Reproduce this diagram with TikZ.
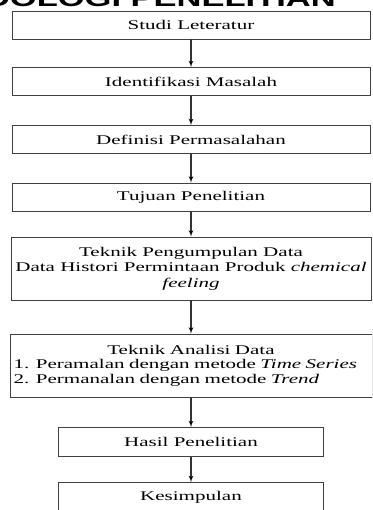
\documentclass[tikz,border=0pt]{standalone}
\usepackage{fontspec}
\setmainfont{Liberation Serif}[FakeStretch=1.58]
\newfontfamily\judulfont{Liberation Sans}[FakeStretch=1.5]
\usepackage{tikz}
\usetikzlibrary{arrows}

\begin{document}
\begin{tikzpicture}[->,>=latex',shorten >=0pt,x=1pt,y=1pt,node distance=56.5pt,
                    box/.style={rectangle,draw=black!75,line width=0.9pt,minimum width=358pt,
                      minimum height=28pt,inner sep=3.5pt,align=center,
                      font=\fontsize{13.3}{15.5}\selectfont},
                    tall box/.style={box,minimum width=360pt,minimum height=63pt},
                    small box/.style={box,minimum width=265pt,minimum height=29pt}]
  \useasboundingbox (0,0) rectangle (372,-510);
  \clip (0,0) rectangle (372,-510);

  \node[anchor=base east,inner sep=0pt,font=\judulfont\bfseries\fontsize{23}{26}\selectfont]
    (judul) at (336,-6.5) {METODOLOGI PENELITIAN};

  \node[box] (studi) at (191,-25) {Studi Leteratur};
  \node[box] (identifikasi) [below of=studi] {Identifikasi Masalah};
  \node[box] (definisi) [below of=identifikasi,node distance=58pt] {Definisi Permasalahan};
  \node[box] (tujuan) [below of=definisi,node distance=57.5pt] {Tujuan Penelitian};
  \node[tall box] (pengumpulan) [below of=tujuan,node distance=71.5pt]
    {Teknik Pengumpulan Data\\ Data Histori Permintaan Produk \textit{chemical}\\ \textit{feeling}};
  \node[tall box,text width=355pt,align=left,font=\fontsize{13.3}{14.5}\selectfont]
    (analisis) [below of=pengumpulan,node distance=97pt]
    {\makebox[\linewidth]{Teknik Analisi Data}\\
     1. Peramalan dengan metode \textit{Time Series}\\
     2. Permanalan dengan metode \textit{Trend}};
  \node[small box] (hasil) [below of=analisis,node distance=76.5pt] {Hasil Penelitian};
  \node[small box] (kesimpulan) [below of=hasil,node distance=55pt] {Kesimpulan};

  \path[draw=black!80,line width=1.1pt]
    (studi) edge (identifikasi)
    (identifikasi) edge (definisi)
    (definisi) edge (tujuan)
    (tujuan) edge (pengumpulan)
    (pengumpulan) edge (analisis)
    (analisis) edge (hasil)
    (hasil) edge (kesimpulan);
\end{tikzpicture}
\end{document}
